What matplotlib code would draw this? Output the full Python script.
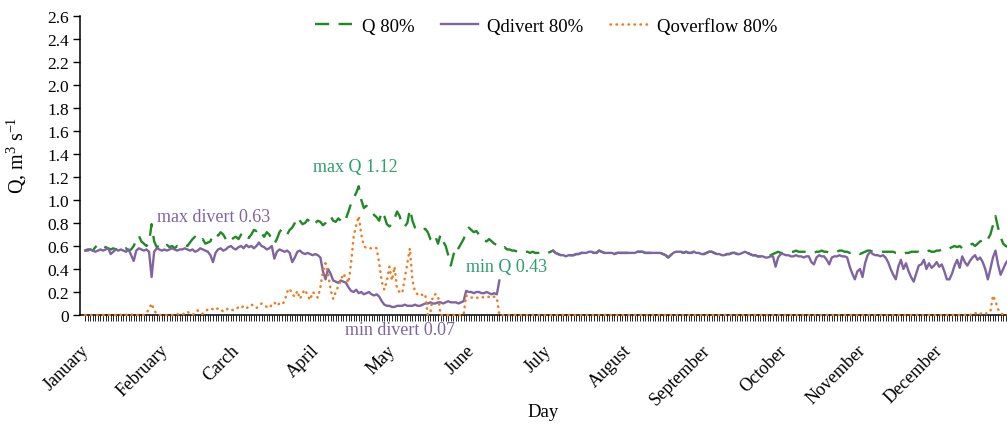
import numpy as np
import matplotlib
matplotlib.use('Agg')
import matplotlib.pyplot as plt
import matplotlib.transforms as mtransforms
from matplotlib.ticker import FixedLocator, FuncFormatter

plt.rcParams['font.family'] = 'serif'
plt.rcParams['font.serif'] = ['Liberation Serif', 'DejaVu Serif']
plt.rcParams['mathtext.fontset'] = 'custom'
plt.rcParams['mathtext.rm'] = 'Liberation Serif'
plt.rcParams['mathtext.it'] = 'Liberation Serif:italic'

nan = np.nan

# daily discharge, one row per month
q80 = [
    0.56, 0.57, 0.57, 0.56, 0.59, 0.61, 0.62, 0.60, 0.59, 0.58, 0.57, 0.58, 0.57, 0.58, 0.56, 0.57, 0.58, 0.56, 0.57, 0.60, 0.65, 0.69, 0.64, 0.62, 0.60, 0.63, 0.79, 0.64, 0.59, 0.60, 0.62,
    0.60, 0.61, 0.59, 0.60, 0.58, 0.60, 0.59, 0.60, 0.61, 0.60, 0.63, 0.66, 0.68, 0.65, 0.64, 0.66, 0.62, 0.63, 0.64, 0.70, 0.71, 0.69, 0.72, 0.70, 0.66, 0.68, 0.65, 0.67,
    0.68, 0.66, 0.70, 0.72, 0.68, 0.67, 0.70, 0.74, 0.73, 0.75, 0.71, 0.68, 0.72, 0.70, 0.66, 0.62, 0.66, 0.72, 0.75, 0.73, 0.70, 0.74, 0.76, 0.80, 0.85, 0.82, 0.79, 0.80, 0.83, 0.81, 0.78,
    0.80, 0.82, 0.81, 0.78, 0.80, 0.84, 0.86, 0.82, 0.81, 0.84, 0.82, 0.86, 0.84, 0.90, 0.97, 1.02, 1.06, 1.12, 1.00, 0.93, 0.95, 0.92, 0.90, 0.87, 0.85, 0.82, 0.90, 0.86, 0.79, 0.77,
    0.79, 0.84, 0.90, 0.86, 0.78, 0.77, 0.80, 0.92, 0.82, 0.76, 0.75, 0.76, 0.74, 0.75, 0.72, 0.66, 0.64, 0.68, 0.62, 0.70, 0.64, 0.60, 0.52, 0.43, 0.52, 0.60, 0.58, 0.62, 0.66, 0.72, 0.76,
    0.74, 0.72, 0.73, 0.70, 0.66, 0.65, 0.64, 0.66, 0.64, 0.62, 0.61, 0.60, 0.58, 0.59, 0.57, 0.57, 0.56, 0.56, 0.55, 0.56, 0.55, 0.55, 0.55, 0.54, 0.55, 0.54, 0.54, 0.54, 0.55, 0.54,
    0.54, 0.55, 0.56, 0.54, 0.53, 0.52, 0.52, 0.51, 0.52, 0.52, 0.52, 0.53, 0.53, 0.54, 0.54, 0.54, 0.55, 0.55, 0.54, 0.54, 0.56, 0.55, 0.54, 0.54, 0.54, 0.54, 0.53, 0.54, 0.54, 0.54, 0.54,
    0.54, 0.54, 0.54, 0.54, 0.55, 0.55, 0.55, 0.54, 0.54, 0.54, 0.54, 0.54, 0.54, 0.54, 0.53, 0.52, 0.50, 0.52, 0.54, 0.55, 0.55, 0.55, 0.54, 0.55, 0.54, 0.54, 0.55, 0.54, 0.54, 0.53, 0.53,
    0.54, 0.55, 0.55, 0.54, 0.53, 0.53, 0.52, 0.52, 0.53, 0.53, 0.54, 0.54, 0.53, 0.53, 0.54, 0.55, 0.54, 0.53, 0.52, 0.52, 0.51, 0.51, 0.51, 0.50, 0.51, 0.52, 0.53, 0.54, 0.55, 0.54,
    0.54, 0.54, 0.55, 0.55, 0.55, 0.56, 0.55, 0.55, 0.55, 0.55, 0.55, 0.55, 0.54, 0.55, 0.55, 0.56, 0.55, 0.55, 0.54, 0.55, 0.55, 0.55, 0.56, 0.56, 0.55, 0.55, 0.54, 0.54, 0.55, 0.54, 0.53,
    0.54, 0.55, 0.56, 0.56, 0.55, 0.55, 0.55, 0.55, 0.55, 0.55, 0.55, 0.55, 0.55, 0.54, 0.54, 0.54, 0.53, 0.54, 0.54, 0.55, 0.55, 0.55, 0.55, 0.54, 0.55, 0.55, 0.56, 0.55, 0.55, 0.56,
    0.56, 0.57, 0.58, 0.57, 0.58, 0.59, 0.60, 0.59, 0.60, 0.58, 0.59, 0.60, 0.61, 0.62, 0.60, 0.62, 0.64, 0.65, 0.63, 0.66, 0.70, 0.78, 0.86, 0.76, 0.68, 0.62, 0.60, 0.59, 0.58, 0.58, 0.57,
]

qdivert80 = [
    0.56, 0.56, 0.57, 0.56, 0.55, 0.56, 0.57, 0.56, 0.57, 0.58, 0.53, 0.55, 0.57, 0.56, 0.57, 0.56, 0.55, 0.57, 0.52, 0.47, 0.56, 0.58, 0.57, 0.56, 0.57, 0.55, 0.33, 0.55, 0.58, 0.57, 0.56,
    0.57, 0.56, 0.57, 0.58, 0.57, 0.56, 0.57, 0.57, 0.58, 0.57, 0.56, 0.57, 0.55, 0.56, 0.58, 0.57, 0.56, 0.55, 0.52, 0.46, 0.54, 0.57, 0.58, 0.56, 0.57, 0.59, 0.60, 0.58,
    0.57, 0.59, 0.60, 0.58, 0.61, 0.59, 0.60, 0.58, 0.60, 0.63, 0.60, 0.59, 0.57, 0.58, 0.60, 0.49, 0.55, 0.57, 0.56, 0.55, 0.56, 0.54, 0.46, 0.50, 0.55, 0.56, 0.54, 0.53, 0.54, 0.53, 0.52,
    0.53, 0.52, 0.50, 0.38, 0.31, 0.40, 0.36, 0.30, 0.29, 0.28, 0.30, 0.29, 0.28, 0.24, 0.21, 0.20, 0.22, 0.19, 0.20, 0.18, 0.19, 0.20, 0.18, 0.17, 0.18, 0.16, 0.12, 0.09, 0.08, 0.08,
    0.07, 0.07, 0.08, 0.08, 0.08, 0.09, 0.08, 0.08, 0.08, 0.09, 0.08, 0.08, 0.09, 0.10, 0.10, 0.11, 0.10, 0.10, 0.11, 0.11, 0.10, 0.11, 0.12, 0.11, 0.11, 0.11, 0.10, 0.11, 0.12, 0.21, 0.20,
    0.20, 0.19, 0.20, 0.20, 0.19, 0.19, 0.20, 0.19, 0.18, 0.19, 0.18, 0.30, nan, nan, nan, nan, nan, nan, nan, nan, nan, nan, nan, nan, nan, nan, nan, nan, nan, nan,
    nan, nan, 0.56, 0.54, 0.53, 0.52, 0.52, 0.51, 0.52, 0.52, 0.52, 0.53, 0.53, 0.54, 0.54, 0.54, 0.55, 0.55, 0.54, 0.54, 0.56, 0.55, 0.54, 0.54, 0.54, 0.54, 0.53, 0.54, 0.54, 0.54, 0.54,
    0.54, 0.54, 0.54, 0.54, 0.55, 0.55, 0.55, 0.54, 0.54, 0.54, 0.54, 0.54, 0.54, 0.54, 0.53, 0.52, 0.50, 0.52, 0.54, 0.55, 0.55, 0.55, 0.54, 0.55, 0.54, 0.54, 0.55, 0.54, 0.54, 0.53, 0.53,
    0.54, 0.55, 0.55, 0.54, 0.53, 0.53, 0.52, 0.52, 0.53, 0.53, 0.54, 0.54, 0.53, 0.53, 0.54, 0.55, 0.54, 0.53, 0.52, 0.52, 0.51, 0.51, 0.51, 0.50, 0.50, 0.51, 0.51, 0.42, 0.50, 0.53,
    0.53, 0.52, 0.52, 0.51, 0.51, 0.52, 0.51, 0.51, 0.50, 0.51, 0.51, 0.46, 0.44, 0.50, 0.52, 0.51, 0.51, 0.48, 0.44, 0.50, 0.51, 0.51, 0.52, 0.51, 0.51, 0.50, 0.42, 0.36, 0.31, 0.38, 0.40,
    0.33, 0.45, 0.52, 0.55, 0.53, 0.52, 0.52, 0.51, 0.52, 0.50, 0.46, 0.40, 0.35, 0.31, 0.42, 0.48, 0.40, 0.45, 0.38, 0.33, 0.29, 0.36, 0.43, 0.44, 0.48, 0.40, 0.45, 0.41, 0.43, 0.46,
    0.42, 0.44, 0.38, 0.31, 0.31, 0.36, 0.43, 0.48, 0.41, 0.51, 0.46, 0.43, 0.47, 0.50, 0.52, 0.48, 0.50, 0.46, 0.40, 0.31, 0.40, 0.50, 0.56, 0.44, 0.35, 0.40, 0.45, 0.48, 0.50, 0.46, 0.44,
]

qoverflow80 = (
    [0.0] * 13 + [0.01, 0.0, 0.01, 0.0, 0.01, 0.0, 0.01, 0.0, 0.0, 0.0, 0.0, 0.02, 0.05, 0.10, 0.04, 0.01, 0.0, 0.0]
    + [0.0, 0.0, 0.0, 0.0, 0.0, 0.01, 0.0, 0.0, 0.02, 0.03, 0.01, 0.0, 0.02, 0.04, 0.02, 0.01, 0.03, 0.05, 0.06, 0.05, 0.04, 0.06, 0.05, 0.03, 0.04, 0.06, 0.05, 0.04]
    + [0.05, 0.07, 0.06, 0.08, 0.06, 0.07, 0.09, 0.08, 0.06, 0.08, 0.10, 0.09, 0.07, 0.06, 0.09, 0.11, 0.08, 0.10, 0.09, 0.12, 0.20, 0.23, 0.18, 0.16, 0.21, 0.14, 0.19, 0.22, 0.17, 0.13, 0.20]
    + [0.18, 0.15, 0.24, 0.38, 0.45, 0.36, 0.22, 0.14, 0.20, 0.25, 0.30, 0.36, 0.32, 0.28, 0.45, 0.68, 0.78, 0.86, 0.70, 0.60, 0.58, 0.58, 0.58, 0.59, 0.58, 0.45, 0.29, 0.22, 0.30, 0.42]
    + [0.30, 0.42, 0.22, 0.20, 0.19, 0.32, 0.45, 0.58, 0.30, 0.20, 0.18, 0.19, 0.17, 0.18, 0.0, 0.02, 0.17, 0.18, 0.17, 0.0] + [0.0] * 9 + [0.17, 0.15]
    + [0.15, 0.16, 0.15, 0.15, 0.16, 0.15, 0.15, 0.16, 0.15, 0.16, 0.15] + [0.0] * 19
    + [0.0] * (31 + 31 + 30 + 31 + 30)
    + [0.0] * 11 + [0.01, 0.0, 0.01, 0.02, 0.0, 0.01, 0.02, 0.01, 0.02, 0.03, 0.17, 0.12, 0.05, 0.02] + [0.0] * 6
)

month_names = ['January', 'February', 'Carch', 'April', 'May', 'June', 'July',
               'August', 'September', 'October', 'November', 'December']
month_start = [1, 32, 60, 91, 121, 152, 182, 213, 244, 274, 305, 335]

GREEN = '#1f8a23'
PURPLE = '#8064a2'
ORANGE = '#ec7d22'
GREEN_TXT = '#2e9e6e'

q80 = np.array(q80)
qdivert80 = np.array(qdivert80)
qoverflow80 = np.array(qoverflow80)
days = np.arange(1, len(q80) + 1)

fig = plt.figure(figsize=(10.07, 4.27), dpi=100)
ax = fig.add_axes([80 / 1007, 111 / 427, 927 / 1007, 299 / 427])

ax.plot(days, q80, color=GREEN, lw=1.7, ls=(0, (6, 4)), label='Q 80%')
ax.plot(days, qdivert80, color=PURPLE, lw=1.7, label='Qdivert 80%')
# overflow sits on the axis most of the year, keep it above the spine
ax.plot(days, qoverflow80, color=ORANGE, lw=1.8, ls=(0, (0.2, 2.2)),
        dash_capstyle='round', label='Qoverflow 80%', clip_on=False, zorder=3)

ax.set_xlim(-1, 361.5)
ax.set_ylim(0, 2.6)

for s in ['top', 'right']:
    ax.spines[s].set_visible(False)
ax.spines['left'].set_linewidth(1.1)
ax.spines['bottom'].set_linewidth(1.1)

ax.set_yticks(np.arange(0, 2.61, 0.2))
ax.yaxis.set_major_formatter(FuncFormatter(lambda v, p: '0' if abs(v) < 1e-9 else f'{v:.1f}'))
ax.tick_params(axis='y', direction='out', length=5, width=1, labelsize=12.5, pad=3)

ax.set_xticks(month_start)
ax.set_xticklabels(month_names, rotation=45, ha='right')
ax.xaxis.set_minor_locator(FixedLocator(days))
ax.tick_params(axis='x', which='both', direction='out', length=4, width=0.6, labelsize=13, pad=15)

# nudge the slanted month names a little to the right
shift = mtransforms.ScaledTranslation(5 / 72, 0, fig.dpi_scale_trans)
for lab in ax.get_xticklabels():
    lab.set_transform(lab.get_transform() + shift)

ax.set_ylabel(r'Q, m$^{3}$ s$^{-1}$', fontsize=14.5)
ax.yaxis.set_label_coords(-0.055, 0.538)
ax.set_xlabel('Day', fontsize=13.5)
ax.xaxis.set_label_coords(0.5, -0.295)

# extreme value notes
ax.text(29, 0.86, f'max divert {np.nanmax(qdivert80):.2f}', color=PURPLE, fontsize=13, va='center')
ax.text(90, 1.29, f'max Q {q80.max():.2f}', color=GREEN_TXT, fontsize=13, va='center')
ax.text(150, 0.42, f'min Q {q80.min():.2f}', color=GREEN_TXT, fontsize=13, va='center')
ax.text(102.6, -0.122, f'min divert {np.nanmin(qdivert80):.2f}', color=PURPLE, fontsize=13, va='center')

ax.legend(loc='center', bbox_to_anchor=(546 / 1007, 1 - 27 / 427), bbox_transform=fig.transFigure,
          ncol=3, frameon=False, fontsize=13.5, handlelength=2.0, handletextpad=0.5,
          columnspacing=1.4)

fig.savefig('out.png', dpi=100)
